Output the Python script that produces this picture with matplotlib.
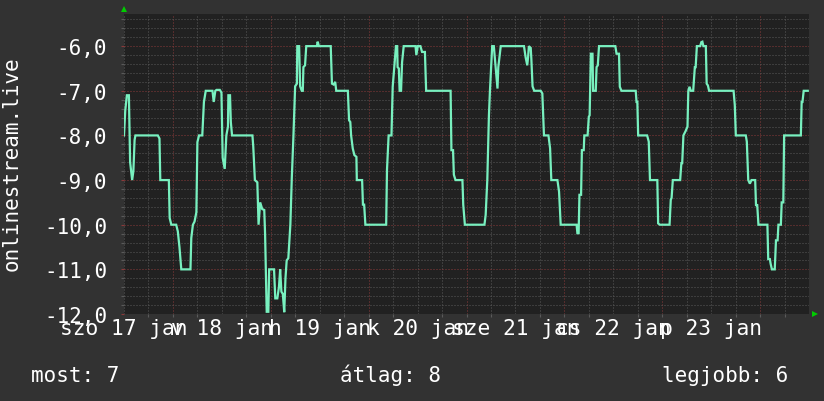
"""RRD-style rank chart: onlinestream.live, 16 jan 12:00 - 23 jan 12:00."""

import matplotlib

matplotlib.use("Agg")
import matplotlib.pyplot as plt
import numpy as np

# hours since 16 jan 12:00, rank value (negated, as drawn by rrdtool)
HOURS = [
    0.0, 0.3, 0.7, 1.2, 1.5, 2.0, 2.3, 2.6, 2.8, 8.3, 8.7, 8.9, 11.0, 11.2, 11.6,
    12.8, 13.2, 13.6, 14.05, 16.3, 16.5, 16.9, 17.3, 17.75, 18.0, 18.4, 19.2, 19.6,
    20.05, 21.7, 22.0, 22.4, 22.7, 23.5, 23.9, 24.2, 24.7, 25.1, 25.5, 25.6, 26.0,
    26.2, 26.5, 31.5, 31.7, 32.1, 32.7, 33.0, 33.4, 33.9, 34.4, 34.6, 35.0, 35.4,
    35.6, 36.8, 37.1, 37.6, 38.0, 38.3, 38.6, 38.95, 39.3, 39.6, 39.9, 40.3, 40.8,
    41.15, 41.56, 41.97, 42.4, 42.5, 42.95, 43.2, 43.6, 43.85, 44.0, 44.4, 44.7,
    47.3, 47.5, 47.8, 50.7, 51.0, 51.4, 51.8, 52.05, 54.9, 55.2, 55.5, 55.7, 56.1,
    56.5, 57.0, 57.1, 58.4, 58.6, 58.9, 59.2, 64.3, 64.5, 64.9, 65.6, 65.9, 66.3,
    66.7, 67.0, 67.1, 67.4, 67.6, 67.95, 68.2, 68.6, 71.5, 71.7, 72.05, 72.7, 73.1,
    73.8, 74.1, 80.1, 80.3, 80.7, 80.9, 81.3, 83.0, 83.2, 83.6, 88.4, 88.7, 89.1,
    89.5, 89.75, 90.1, 90.3, 90.7, 91.1, 91.6, 91.8, 92.4, 98.1, 98.5, 98.9, 99.1,
    99.3, 99.75, 99.9, 100.2, 100.6, 102.2, 102.6, 103.0, 104.1, 104.5, 104.8,
    106.3, 106.7, 107.1, 111.0, 111.2, 111.5, 111.7, 112.1, 112.3, 112.75, 112.9,
    113.7, 114.0, 114.2, 114.5, 114.9, 115.05, 115.7, 115.9, 116.2, 116.5, 120.5,
    120.8, 121.4, 121.6, 122.0, 125.5, 125.7, 125.9, 126.1, 128.3, 128.7, 129.0,
    130.8, 131.0, 131.4, 133.8, 134.1, 134.3, 134.6, 136.4, 136.7, 136.9, 137.2,
    137.75, 138.2, 138.4, 138.7, 139.0, 139.6, 140.0, 140.2, 140.5, 141.3, 141.6,
    141.85, 142.1, 142.7, 142.9, 143.2, 143.5, 149.5, 149.8, 150.05, 152.5, 152.75,
    153.1, 153.5, 153.9, 154.8, 155.0, 155.3, 155.6, 157.8, 158.0, 158.4, 158.6,
    158.9, 159.6, 159.9, 160.3, 160.5, 161.1, 161.3, 161.7, 161.9, 166.0, 166.2,
    166.4, 166.7, 167.7,
]
RANK = [
    -8.0, -7.45, -7.1, -7.1, -8.6, -9.0, -8.8, -8.1, -8.0, -8.0, -8.07, -9.0, -9.0, -9.85, -10.0,
    -10.0, -10.15, -10.5, -11.0, -11.0, -10.3, -10.0, -9.93, -9.72, -8.15, -8.0, -8.0, -7.25,
    -7.0, -7.0, -7.25, -7.0, -6.98, -6.98, -7.04, -8.5, -8.75, -8.0, -7.8, -7.1, -7.1,
    -7.7, -8.0, -8.0, -8.25, -9.0, -9.05, -10.0, -9.5, -9.65, -9.67, -10.2, -11.95, -11.95,
    -11.0, -11.0, -11.65, -11.65, -11.4, -11.0, -11.5, -11.55, -11.96, -11.2, -10.8, -10.75, -10.0,
    -8.96, -8.0, -6.9, -6.84, -6.0, -6.0, -6.9, -7.0, -7.0, -6.47, -6.43, -6.0,
    -6.0, -5.9, -6.0, -6.0, -6.84, -6.86, -6.8, -7.0, -7.0, -7.66, -7.7, -8.0, -8.29,
    -8.44, -8.48, -9.0, -9.0, -9.55, -9.55, -10.0, -10.0, -8.77, -8.0, -8.0, -6.91, -6.47,
    -6.0, -6.0, -6.47, -6.5, -7.0, -7.0, -6.36, -6.0, -6.0, -6.2, -6.0, -6.0, -6.13,
    -6.13, -7.0, -7.0, -8.33, -8.33, -8.88, -9.0, -9.0, -9.55, -10.0, -10.0, -9.78, -9.0,
    -7.55, -7.0, -6.36, -6.0, -6.0, -6.43, -6.95, -6.47, -6.0, -6.0, -6.25, -6.43, -6.25,
    -6.0, -6.04, -6.28, -6.9, -7.0, -7.0, -7.06, -8.0, -8.0, -8.29, -9.0,
    -9.0, -9.26, -10.0, -10.0, -10.19, -10.19, -9.33, -9.33, -8.33, -8.33, -8.0,
    -8.0, -7.58, -7.55, -6.17, -6.17, -7.0, -7.0, -6.47, -6.43, -6.0, -6.0,
    -6.17, -6.17, -6.91, -7.0, -7.0, -7.25, -7.25, -8.0, -8.0, -8.14, -9.0,
    -9.0, -9.97, -10.0, -10.0, -9.44, -9.4, -9.0, -9.0, -8.62, -8.62, -8.0,
    -7.9, -7.8, -7.0, -6.91, -7.0, -7.0, -6.47, -6.47, -6.0, -6.0, -5.91,
    -5.9, -6.0, -6.0, -6.84, -6.88, -7.0, -7.0, -7.32, -8.0, -8.0, -8.14,
    -9.0, -9.08, -9.0, -9.0, -9.56, -9.56, -10.0, -10.0, -10.77, -10.77, -10.88,
    -11.0, -11.0, -10.35, -10.35, -10.0, -10.0, -9.5, -9.5, -8.0, -8.0, -7.25,
    -7.25, -7.0, -7.0,
]

DAY_LABELS = ["szo 17 jan", "v 18 jan", "h 19 jan", "k 20 jan", "sze 21 jan", "cs 22 jan", "p 23 jan"]
DAY_LABEL_HOURS = [0, 24, 48, 72, 96, 120, 144]
Y_TICKS = [-12, -11, -10, -9, -8, -7, -6]
Y_TICK_LABELS = ["-12,0", "-11,0", "-10,0", "-9,0", "-8,0", "-7,0", "-6,0"]
SUMMARY = [("most", 7), ("átlag", 8), ("legjobb", 6)]
SUMMARY_X = [31.5, 340.5, 661.5]  # pixel left edges

BG = "#323232"
CANVAS = "#212121"
MINOR = "#5a5a5a"
MAJOR = "#8a3a3a"
LINE = "#78f0bf"
FONT = "DejaVu Sans Mono"


def main() -> None:
    W, H = 824, 402
    fig = plt.figure(figsize=(W / 100, H / 100), dpi=100, facecolor=BG)
    ax = fig.add_axes([124 / W, 1 - 315 / H, 685 / W, 300 / H], facecolor=CANVAS)
    ax.set_xlim(0, 168)
    ax.set_ylim(-12.0, -5.28)

    dots = (0, (1.0, 2.0))
    for h in np.arange(0, 169, 6):
        major = (h - 12) % 24 == 0
        ax.axvline(h, color=MAJOR if major else MINOR, lw=0.72, ls=dots, zorder=1)
    for v in np.arange(-12.0, -5.2, 0.2):
        v = round(v, 1)
        major = abs(v - round(v)) < 1e-6
        ax.axhline(v, color=MAJOR if major else MINOR, lw=0.72, ls=dots, zorder=1)

    ax.plot(HOURS, RANK, color=LINE, lw=1.6, zorder=3, solid_joinstyle="miter")

    for s in ax.spines.values():
        s.set_visible(False)

    ax.set_yticks(Y_TICKS)
    ax.set_yticklabels(Y_TICK_LABELS, fontsize=15, family=FONT, color="white")
    ax.set_yticks(np.arange(-12.0, -5.2, 0.2), minor=True)
    ax.set_xticks(DAY_LABEL_HOURS)
    ax.set_xticklabels(DAY_LABELS, fontsize=15.3, family=FONT, color="white")
    ax.set_xticks(np.arange(6, 168, 6), minor=True)
    ax.tick_params(axis="y", which="major", length=2, width=0.8, color=MAJOR, pad=10)
    ax.tick_params(axis="y", which="minor", length=2, width=0.8, color=MINOR)
    ax.tick_params(axis="x", which="major", length=0, pad=3)
    ax.tick_params(axis="x", which="minor", length=2, width=0.8, color=MINOR)

    fig.text(12 / W, 1 - 164 / H, "onlinestream.live", rotation=90, ha="center", va="center",
             fontsize=15, family=FONT, color="white")

    for (name, val), px in zip(SUMMARY, SUMMARY_X):
        fig.text(px / W, 1 - 382 / H, f"{name}: {val}", ha="left", va="baseline",
                 fontsize=15, family=FONT, color="white")

    # rrdtool axis arrows
    ax.plot([0], [1.0 + 5 / 300], transform=ax.transAxes, marker="^", ms=5,
            color="#00cc00", clip_on=False, mew=0)
    ax.plot([1.0 + 6 / 685], [0.0], transform=ax.transAxes, marker=">", ms=5,
            color="#00cc00", clip_on=False, mew=0)

    fig.savefig("out.png", dpi=100, facecolor=BG)
    plt.close(fig)


if __name__ == "__main__":
    main()
